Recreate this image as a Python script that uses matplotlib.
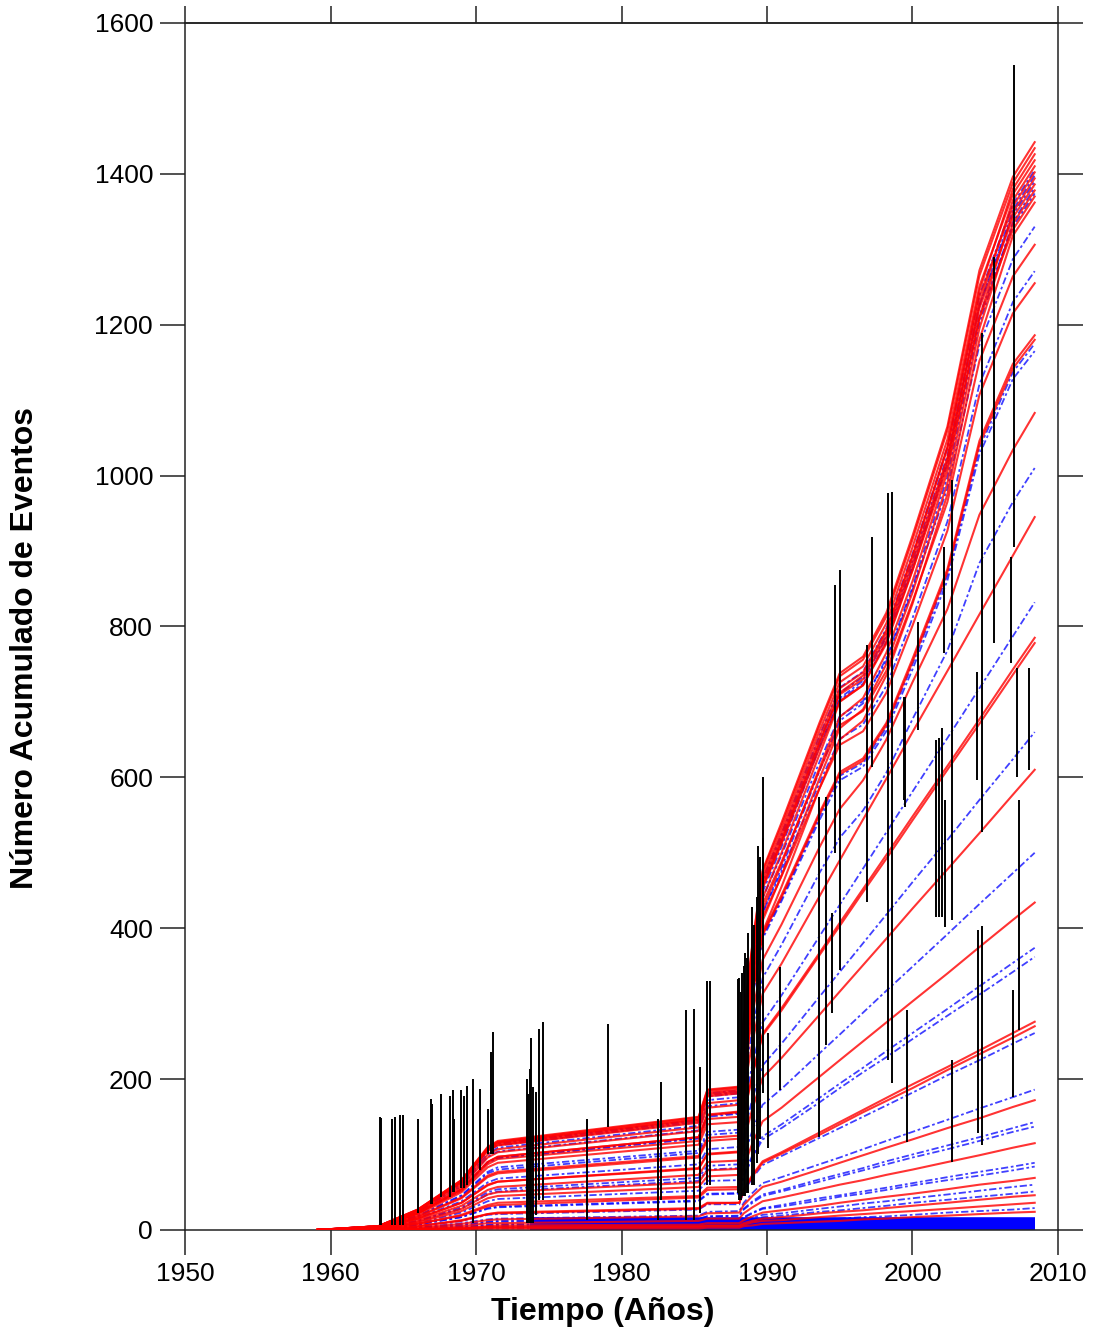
import matplotlib
matplotlib.use('Agg')
import matplotlib.pyplot as plt

# knot years shared by every cumulative curve
knot_years = [1959.1, 1963.3, 1966.0, 1969.0, 1970.8, 1971.5, 1985.3, 1985.9,
              1988.1, 1988.4, 1989.0, 1989.7, 1991.0, 1993.6, 1995.0, 1996.6,
              1998.2, 2000.0, 2002.4, 2004.6, 2006.9, 2008.4]

# red curves (solid), values read at knot_years
red_bundle = [
    [0, 5, 27, 66, 110, 118, 150, 186, 190, 280, 380, 477, 540, 672, 738, 760, 818, 920, 1065, 1272, 1396, 1442],
    [0, 5, 27, 66, 109, 117, 149, 185, 189, 278, 378, 475, 536, 668, 734, 756, 813, 915, 1060, 1265, 1388, 1434],
    [0, 4, 22, 52, 87, 94, 118, 147, 150, 240, 360, 455, 515, 645, 712, 735, 792, 892, 1038, 1245, 1380, 1426],
    [0, 5, 27, 65, 108, 116, 147, 183, 187, 275, 374, 469, 530, 661, 726, 747, 804, 905, 1048, 1251, 1373, 1418],
    [0, 3, 17, 42, 70, 75, 96, 118, 121, 220, 350, 440, 500, 630, 700, 722, 780, 875, 1020, 1228, 1365, 1410],
    [0, 5, 26, 64, 107, 115, 146, 181, 185, 272, 370, 464, 524, 653, 718, 739, 795, 894, 1036, 1237, 1357, 1402],
    [0, 3, 13, 32, 53, 57, 73, 90, 92, 200, 340, 425, 485, 612, 680, 705, 765, 860, 1005, 1210, 1349, 1394],
    [0, 5, 26, 63, 106, 113, 144, 179, 183, 269, 366, 459, 518, 646, 710, 730, 786, 884, 1024, 1222, 1342, 1386],
    [0, 2, 10, 25, 42, 45, 57, 71, 73, 180, 325, 410, 470, 598, 665, 690, 750, 845, 990, 1195, 1334, 1378],
    [0, 5, 26, 63, 105, 112, 142, 177, 181, 266, 362, 453, 512, 638, 701, 722, 777, 874, 1012, 1208, 1326, 1370],
    [0, 2, 8, 19, 31, 33, 43, 53, 54, 160, 315, 395, 455, 585, 650, 675, 735, 830, 975, 1180, 1318, 1362],
]
red_fan = [
    [0, 5, 24, 60, 100, 107, 136, 168, 172, 253, 345, 432, 488, 609, 669, 688, 741, 833, 965, 1152, 1264, 1306],
    [0, 4, 23, 57, 96, 103, 131, 162, 166, 243, 331, 415, 469, 585, 643, 661, 712, 801, 927, 1107, 1215, 1255],
    [0, 4, 22, 54, 90, 97, 123, 153, 157, 230, 313, 393, 444, 553, 607, 625, 672, 757, 876, 1046, 1148, 1186],
    [0, 4, 22, 54, 90, 97, 123, 152, 156, 229, 312, 391, 441, 550, 604, 622, 669, 753, 872, 1041, 1142, 1180],
    [0, 4, 20, 50, 83, 89, 113, 140, 143, 210, 286, 358, 405, 507, 558, 596, 650, 726, 823, 948, 1034, 1083],
    [0, 3, 18, 43, 72, 77, 98, 122, 125, 183, 249, 313, 353, 442, 490, 544, 598, 660, 741, 816, 894, 945],
    [0, 3, 15, 36, 60, 64, 82, 101, 104, 152, 207, 260, 294, 367, 407, 452, 497, 548, 615, 677, 743, 785],
    [0, 3, 15, 36, 59, 64, 81, 100, 103, 151, 205, 258, 291, 364, 403, 448, 492, 543, 610, 671, 736, 778],
    [0, 2, 11, 28, 47, 50, 63, 79, 81, 118, 161, 202, 228, 285, 316, 351, 386, 426, 478, 526, 577, 610],
    [0, 2, 8, 20, 33, 36, 45, 56, 57, 84, 115, 144, 162, 203, 225, 250, 275, 303, 340, 375, 411, 434],
    [0, 1, 5, 13, 21, 23, 29, 36, 36, 54, 73, 91, 103, 129, 143, 159, 175, 193, 216, 238, 261, 276],
    [0, 1, 5, 12, 21, 22, 28, 35, 36, 52, 71, 89, 101, 126, 140, 156, 171, 188, 212, 233, 255, 270],
    [0, 1, 3, 8, 13, 14, 18, 22, 23, 33, 45, 57, 64, 80, 89, 99, 109, 120, 135, 148, 163, 172],
    [0, 0, 2, 5, 9, 9, 12, 15, 15, 22, 30, 38, 43, 54, 60, 66, 73, 80, 90, 99, 109, 115],
    [0, 0, 1, 3, 5, 6, 7, 9, 9, 13, 18, 23, 26, 32, 36, 40, 44, 48, 54, 60, 65, 69],
    [0, 0, 1, 2, 4, 4, 5, 6, 6, 9, 12, 15, 17, 22, 24, 26, 29, 32, 36, 40, 44, 46],
    [0, 0, 1, 2, 3, 3, 4, 5, 5, 7, 10, 12, 13, 17, 19, 21, 23, 25, 28, 31, 34, 36],
    [0, 0, 0, 1, 2, 2, 2, 3, 3, 5, 6, 8, 9, 11, 12, 14, 15, 17, 19, 21, 23, 24],
]

# blue curves (dashed)
blue_bundle = [
    [0, 5, 26, 64, 107, 115, 146, 181, 185, 273, 371, 465, 525, 655, 719, 740, 797, 896, 1038, 1239, 1360, 1405],
    [0, 3, 18, 45, 75, 80, 102, 126, 129, 210, 350, 448, 508, 640, 705, 728, 785, 880, 1020, 1225, 1352, 1398],
    [0, 5, 26, 64, 106, 114, 145, 179, 183, 270, 367, 460, 520, 648, 712, 733, 788, 887, 1027, 1226, 1346, 1390],
    [0, 2, 12, 28, 47, 51, 65, 80, 82, 170, 330, 420, 480, 608, 675, 698, 758, 852, 998, 1202, 1336, 1382],
    [0, 5, 26, 63, 105, 112, 143, 177, 181, 267, 363, 455, 514, 640, 703, 724, 779, 877, 1015, 1212, 1330, 1374],
]
blue_fan = [
    [0, 5, 25, 61, 101, 109, 138, 172, 176, 258, 351, 440, 497, 620, 681, 701, 754, 849, 983, 1173, 1287, 1330],
    [0, 4, 24, 58, 97, 104, 132, 164, 168, 247, 336, 421, 475, 592, 651, 670, 721, 811, 939, 1121, 1230, 1271],
    [0, 4, 22, 54, 90, 96, 122, 152, 155, 228, 310, 389, 439, 548, 602, 619, 666, 750, 868, 1036, 1137, 1175],
    [0, 4, 22, 53, 89, 95, 121, 150, 154, 226, 308, 386, 436, 543, 596, 614, 661, 743, 861, 1028, 1128, 1165],
    [0, 4, 19, 46, 77, 83, 105, 130, 133, 196, 267, 334, 378, 473, 520, 556, 606, 677, 768, 884, 965, 1010],
    [0, 3, 16, 38, 63, 68, 87, 107, 110, 161, 220, 275, 311, 389, 431, 479, 527, 581, 652, 718, 787, 832],
    [0, 2, 12, 30, 50, 54, 69, 85, 87, 128, 174, 218, 247, 309, 342, 380, 418, 461, 517, 570, 624, 660],
    [0, 2, 9, 23, 38, 41, 52, 65, 66, 97, 132, 166, 187, 234, 259, 288, 317, 349, 392, 432, 473, 500],
    [0, 1, 7, 17, 29, 31, 39, 48, 49, 73, 99, 124, 140, 175, 194, 215, 237, 261, 293, 323, 354, 374],
    [0, 1, 7, 17, 28, 30, 38, 47, 48, 70, 96, 120, 135, 169, 188, 209, 229, 253, 284, 312, 342, 362],
    [0, 1, 5, 12, 20, 21, 27, 34, 34, 51, 69, 86, 98, 122, 135, 150, 165, 182, 205, 225, 247, 261],
    [0, 1, 3, 9, 14, 15, 19, 24, 25, 36, 49, 62, 70, 87, 96, 107, 118, 130, 146, 161, 176, 186],
    [0, 1, 3, 7, 11, 12, 15, 18, 19, 28, 38, 47, 53, 67, 74, 82, 91, 100, 112, 123, 135, 143],
    [0, 0, 3, 6, 10, 11, 14, 18, 18, 27, 36, 45, 51, 64, 71, 79, 87, 96, 107, 118, 130, 137],
    [0, 0, 2, 4, 7, 7, 9, 11, 12, 17, 23, 29, 33, 42, 46, 51, 56, 62, 70, 77, 84, 89],
    [0, 0, 2, 4, 6, 7, 9, 11, 11, 16, 22, 28, 31, 39, 44, 48, 53, 59, 66, 72, 79, 84],
    [0, 0, 1, 3, 5, 5, 6, 8, 8, 12, 16, 20, 22, 28, 31, 35, 38, 42, 47, 52, 57, 60],
    [0, 0, 1, 2, 4, 4, 5, 7, 7, 10, 13, 17, 19, 24, 26, 29, 32, 36, 40, 44, 48, 51],
    [0, 0, 1, 1, 2, 2, 3, 4, 4, 6, 8, 10, 11, 14, 15, 17, 18, 20, 23, 25, 27, 29],
]

# flat blue lines packed along the bottom
floor_levels = [1.5, 4, 6.5, 9, 11.5, 14]
floor_start = 1973.7
floor_end = 2008.4

# black vertical event bars: year, lower end, upper end
event_years = [1963.4, 1963.5, 1964.2, 1964.4, 1964.8, 1965.0, 1966.0, 1966.9,
               1967.0, 1967.6, 1968.2, 1968.4, 1968.5, 1969.0, 1969.2, 1969.4,
               1969.8, 1970.3, 1970.8, 1971.0, 1971.2, 1973.5, 1973.6, 1973.7,
               1973.8, 1973.9, 1974.1, 1974.3, 1974.6, 1977.6, 1979.1, 1982.5,
               1982.7, 1984.4, 1985.0, 1985.4, 1985.9, 1986.1, 1988.0, 1988.1,
               1988.2, 1988.3, 1988.4, 1988.5, 1988.6, 1988.7, 1989.0, 1989.1,
               1989.3, 1989.4, 1989.5, 1989.7, 1989.75, 1990.1, 1990.9, 1993.6,
               1994.05, 1994.5, 1994.7, 1995.0, 1996.85, 1997.2, 1998.3, 1998.6,
               1999.4, 1999.5, 1999.6, 2000.4, 2001.6, 2001.8, 2002.0, 2002.2,
               2002.25, 2002.7, 2002.75, 2004.4, 2004.5, 2004.75, 2004.8, 2005.6,
               2006.8, 2006.9, 2007.0, 2007.15, 2007.3, 2008.0]
event_low = [7, 7, 7, 7, 7, 7, 22, 35,
             35, 44, 44, 50, 50, 55, 55, 60,
             9, 80, 100, 100, 100, 9, 9, 9,
             9, 9, 20, 40, 40, 13, 137, 13,
             40, 13, 13, 22, 60, 60, 49, 40,
             40, 45, 45, 45, 49, 49, 60, 60,
             89, 100, 120, 181, 477, 109, 185, 123,
             245, 288, 500, 345, 435, 614, 225, 195,
             570, 561, 117, 663, 415, 415, 415, 765,
             402, 411, 90, 597, 128, 528, 113, 778,
             752, 176, 905, 600, 265, 610]
event_high = [150, 148, 147, 150, 152, 152, 147, 174,
              167, 180, 178, 185, 147, 185, 178, 191,
              200, 187, 160, 236, 262, 200, 180, 214,
              255, 190, 183, 266, 275, 147, 273, 147,
              196, 291, 293, 216, 330, 330, 333, 334,
              316, 340, 350, 367, 360, 394, 428, 404,
              441, 509, 494, 520, 601, 261, 349, 574,
              574, 420, 855, 875, 775, 919, 977, 978,
              706, 706, 292, 806, 650, 652, 665, 905,
              570, 994, 225, 740, 398, 1189, 403, 1290,
              892, 318, 1544, 745, 570, 745]

x_ticks = [1950, 1960, 1970, 1980, 1990, 2000, 2010]
y_ticks = [0, 200, 400, 600, 800, 1000, 1200, 1400, 1600]

plt.rcParams['font.family'] = ['Liberation Sans', 'DejaVu Sans']

fig = plt.figure(figsize=(11, 13.35), dpi=100)
ax = fig.add_axes([0.1682, 0.0787, 0.7936, 0.9041])

dash = (0, (4, 1.5, 1.5, 1.5))
for row in blue_bundle + blue_fan:
    ax.plot(knot_years, row, color='blue', lw=1.3, ls=dash, alpha=0.75, zorder=2)
ax.hlines(floor_levels, floor_start, floor_end, color='blue', lw=2.6, zorder=2)
for row in red_fan + red_bundle:
    ax.plot(knot_years, row, color='red', lw=1.5, alpha=0.8, zorder=3)
ax.vlines(event_years, event_low, event_high, color='black', lw=1.4, zorder=4)

ax.set_xlim(1950, 2010)
ax.set_ylim(0, 1600)
ax.set_xticks(x_ticks)
ax.set_yticks(y_ticks)
ax.tick_params(axis='both', direction='out', length=18, width=1.1,
               labelsize=19, pad=5, colors='#222222', labelcolor='black')
ax.tick_params(axis='y', right=True)
top = ax.secondary_xaxis('top')
top.set_xticks(x_ticks)
top.tick_params(direction='out', length=12, width=1.1, labeltop=False,
                colors='#222222')
top.spines['top'].set_linewidth(1.1)
top.spines['top'].set_color('#222222')
for s in ax.spines.values():
    s.set_linewidth(1.1)
    s.set_color('#222222')

ax.set_xlabel('Tiempo (Años)', fontsize=23, fontweight='bold')
ax.xaxis.set_label_coords(0.479, -0.068)
ax.xaxis.label.set_verticalalignment('center')
ax.set_ylabel('Número Acumulado de Eventos', fontsize=23, fontweight='bold')
ax.yaxis.set_label_coords(-0.183, 0.482)
ax.yaxis.label.set_verticalalignment('center')

fig.savefig('out.png', dpi=100, facecolor='white')
